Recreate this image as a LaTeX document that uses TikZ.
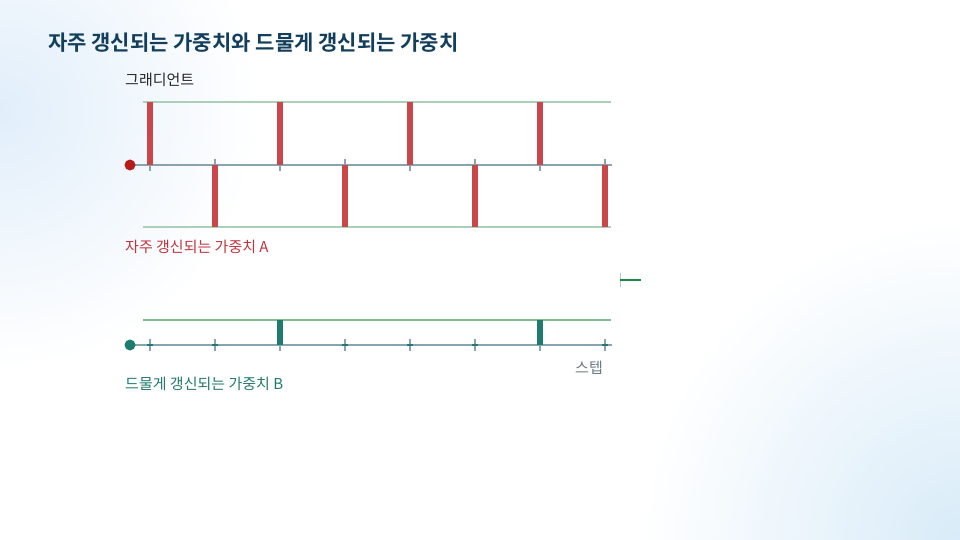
\documentclass[tikz,border=0pt]{standalone}
\usepackage{fontspec}
\newfontfamily\kr{Noto Sans CJK KR}
\newfontfamily\krb{Noto Sans CJK KR Bold}
\definecolor{titleblue}{HTML}{133F5C}
\definecolor{bgblue}{HTML}{E1EEFA}
\definecolor{bgblue2}{HTML}{D8EBF8}
\definecolor{redbar}{HTML}{C9464B}
\definecolor{reddot}{HTML}{B71C1C}
\definecolor{redtext}{HTML}{C0353D}
\definecolor{lgreen}{HTML}{ABCFB8}
\definecolor{mgreen}{HTML}{82BA92}
\definecolor{axisc}{HTML}{8AA3B1}
\definecolor{teal}{HTML}{1E7B6E}
\definecolor{tealtext}{HTML}{217A6D}
\definecolor{greytext}{HTML}{6B7B85}
\definecolor{legg}{HTML}{1E8A4A}
\tikzset{
  axisline/.style={draw=axisc, line width=1.6pt},
  tickmark/.style={draw=axisc, line width=1.2pt},
  refline/.style={draw=lgreen, line width=1.4pt},
  redbarst/.style={fill=redbar},
  tealbarst/.style={fill=teal},
  zeromark/.style={draw=teal, line width=1.6pt},
  lbl/.style={anchor=base west, inner sep=0pt, font=\kr\fontsize{15}{17}\selectfont},
}
\begin{document}
\begin{tikzpicture}[x=1pt,y=-1pt]
\useasboundingbox (0,0) rectangle (960,540);
\fill[white] (0,0) rectangle (960,540);
\shade[inner color=bgblue, outer color=white] (0,110) circle (260);
\shade[inner color=bgblue2, outer color=white] (960,540) circle (320);
% title
\node[anchor=base west, inner sep=0pt, text=titleblue, font=\krb\fontsize{21}{24}\selectfont] (title) at (48,51) {자주 갱신되는 가중치와 드물게 갱신되는 가중치};
\node[lbl, text=black!85] (grad) at (125,86) {그래디언트};
% top graph
\coordinate (tl) at (143,102); \coordinate (tr) at (611,102);
\coordinate (bl) at (143,227); \coordinate (br) at (611,227);
\coordinate (al) at (130,165); \coordinate (ar) at (612,165);
\draw[refline] (tl) -- (tr);
\draw[refline] (bl) -- (br);
\draw[axisline] (al) -- (ar);
\foreach \x in {150,215,280,345,410,475,540,605} {
  \draw[tickmark] (\x,159) -- (\x,171);
}
\foreach \x in {150,280,410,540} {
  \fill[redbarst] (\x-3,102) rectangle (\x+3,165);
}
\foreach \x in {215,345,475,605} {
  \fill[redbarst] (\x-3,165) rectangle (\x+3,227);
}
\fill[reddot] (al) circle (5.5);
\node[lbl, text=redtext] (labA) at (125,252) {자주 갱신되는 가중치 A};
% legend mark
\coordinate (lg1) at (620,280); \coordinate (lg2) at (641,280);
\draw[draw=lgreen, line width=1pt] (620,273) -- (620,287);
\draw[draw=legg, line width=2.4pt] (lg1) -- (lg2);
% bottom graph
\coordinate (gl) at (143,320); \coordinate (gr) at (611,320);
\coordinate (bal) at (130,345); \coordinate (bar) at (612,345);
\draw[draw=mgreen, line width=1.4pt] (gl) -- (gr);
\draw[axisline] (bal) -- (bar);
\foreach \x in {150,215,280,345,410,475,540,605} {
  \draw[tickmark] (\x,339) -- (\x,351);
}
\foreach \x in {150,215,345,410,475,605} {
  \draw[zeromark] (\x-3,345) -- (\x+3,345);
}
\foreach \x in {280,540} {
  \fill[tealbarst] (\x-3,320) rectangle (\x+3,345);
}
\fill[teal] (bal) circle (5.5);
\node[lbl, text=greytext] (step) at (575,373) {스텝};
\node[lbl, text=tealtext] (labB) at (125,389) {드물게 갱신되는 가중치 B};
\end{tikzpicture}
\end{document}
